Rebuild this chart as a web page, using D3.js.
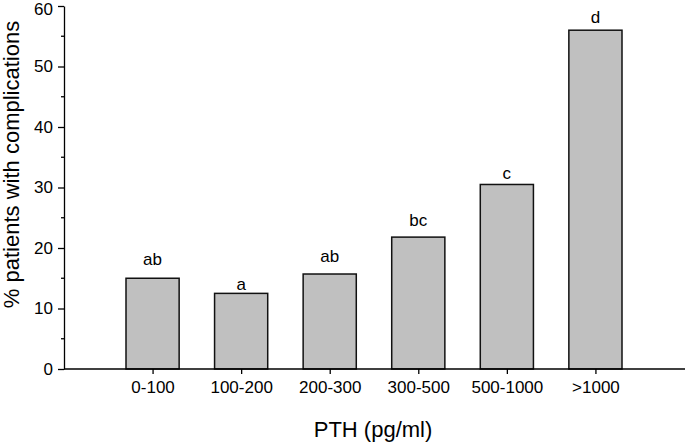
<!DOCTYPE html>
<html><head><meta charset="utf-8">
<script src="https://cdn.jsdelivr.net/npm/d3@7"></script>
<style>body{margin:0;background:#fff}svg{display:block}text{font-family:"Liberation Sans",Arial,sans-serif;fill:#000}</style>
</head><body><svg id="c" width="685" height="442"></svg>
<script>
const categories = ["0-100","100-200","200-300","300-500","500-1000",">1000"];
const values = [15.0, 12.5, 15.7, 21.8, 30.5, 56.0];
const letters = ["ab","a","ab","bc","c","d"];
const letterPos = [17.2, 13.1, 17.7, 23.6, 31.4, 57.2];
const yTicks = [0,10,20,30,40,50,60];
const yMinor = [5,15,25,35,45,55];

const svg = d3.select("#c");
const L = 64, R = 684, T = 6, B = 369;
const x = d3.scalePoint().domain(categories).range([L, R]).padding(1);
const y = d3.scaleLinear().domain([0, 60]).range([B, T]);
const bw = x.step() * 0.6;

// bars
svg.append("g").selectAll("rect").data(values).join("rect")
  .attr("x", (d,i) => x(categories[i]) - bw/2)
  .attr("y", d => y(d))
  .attr("width", bw)
  .attr("height", d => B - y(d))
  .attr("fill", "#c0c0c0").attr("stroke", "#111").attr("stroke-width", 1.5);

// letters
svg.append("g").selectAll("text").data(letters).join("text")
  .attr("x", (d,i) => x(categories[i]))
  .attr("y", (d,i) => y(letterPos[i]))
  .attr("text-anchor", "middle").attr("font-size", 17).text(d => d);

// y axis
const ya = svg.append("g").attr("transform", `translate(${L},0)`)
  .call(d3.axisLeft(y).tickValues(yTicks).tickSize(6).tickPadding(5).tickSizeOuter(0));
ya.selectAll("text").attr("font-size", 17).attr("font-family", "Liberation Sans, Arial, sans-serif");
ya.selectAll(".tick").filter(d => d === 60).select("text").attr("dy", "0.5em");
ya.selectAll("line,path").attr("stroke", "#000").attr("stroke-width", 1.3);
ya.append("g").selectAll("line").data(yMinor).join("line")
  .attr("x1", -3).attr("x2", 0).attr("y1", d => y(d)).attr("y2", d => y(d))
  .attr("stroke", "#000").attr("stroke-width", 1.3);

// x axis
const xa = svg.append("g").attr("transform", `translate(0,${B})`)
  .call(d3.axisBottom(x).tickSize(5).tickPadding(7).tickSizeOuter(0));
xa.select("path.domain").attr("d", `M${L},0H685`);
xa.selectAll("text").attr("font-size", 17).attr("font-family", "Liberation Sans, Arial, sans-serif");
xa.selectAll("line,path").attr("stroke", "#000").attr("stroke-width", 1.3);

// titles
svg.append("text").attr("x", (L+R)/2 - 1).attr("y", 437).attr("text-anchor", "middle")
  .attr("font-size", 22).text("PTH (pg/ml)");
svg.append("text").attr("transform", `translate(19,${(T+B)/2 - 23}) rotate(-90)`)
  .attr("text-anchor", "middle").attr("font-size", 22).text("% patients with complications");
</script></body></html>
